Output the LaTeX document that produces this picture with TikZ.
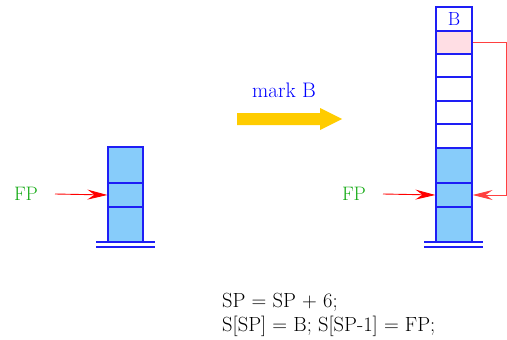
\documentclass[tikz,border=0pt]{standalone}
\usetikzlibrary{arrows.meta}
\definecolor{cellline}{RGB}{30,30,245}
\definecolor{cellblue}{RGB}{135,204,250}
\definecolor{cellpink}{RGB}{255,222,228}
\definecolor{fpgreen}{RGB}{20,170,20}
\definecolor{markgold}{RGB}{255,204,0}
\begin{document}
\begin{tikzpicture}[x=1pt,y=-1pt,
  cell/.style={draw=cellline, line width=1.2pt, rectangle, inner sep=0pt,
               minimum width=35pt},
  used/.style={cell, fill=cellblue},
  freecell/.style={cell, fill=white},
  pinkcell/.style={cell, fill=cellpink},
  ground/.style={draw=cellline, line width=1.1pt},
  ptr/.style={draw=red, line width=0.9pt,
              -{Stealth[length=20pt,width=10pt,inset=7pt]}},
  lbl/.style={inner sep=0pt},
  fp/.style={lbl, text=fpgreen, font=\fontsize{19.5}{22}\selectfont},
  code/.style={lbl, anchor=base west, font=\fontsize{20.5}{22}\selectfont}]
\useasboundingbox (0,0) rectangle (507,340);

% stack before the call
\node[used, minimum height=36pt] (L1) at (125.5,165) {};
\node[used, minimum height=24pt] (L2) at (125.5,195) {};
\node[used, minimum height=34pt] (L3) at (125.5,224.5) {};
\draw[ground] (96,242) -- (155,242);
\draw[ground] (96,247) -- (155,247);

\node[fp] (fpL) at (26,194) {FP};
\coordinate (fpLs) at (55,194);
\draw[ptr] (fpLs) -- (L2.west);

% transition arrow
\node[lbl, text=blue, font=\fontsize{21}{24}\selectfont] (mark) at (284,90) {mark B};
\fill[markgold] (237,113) -- (320,113) -- (320,108) -- (342,119)
  -- (320,130) -- (320,125) -- (237,125) -- cycle;

% stack after marking
\node[freecell, minimum width=36pt, minimum height=24pt, text=blue,
      font=\fontsize{19}{22}\selectfont] (R0) at (454,19) {B};
\node[pinkcell, minimum width=36pt, minimum height=23pt] (R1) at (454,42.5) {};
\node[freecell, minimum width=36pt, minimum height=23pt] (R2) at (454,65.5) {};
\node[freecell, minimum width=36pt, minimum height=24pt] (R3) at (454,89) {};
\node[freecell, minimum width=36pt, minimum height=23pt] (R4) at (454,112.5) {};
\node[freecell, minimum width=36pt, minimum height=24pt] (R5) at (454,136) {};
\node[used, minimum width=36pt, minimum height=35pt] (R6) at (454,165.5) {};
\node[used, minimum width=36pt, minimum height=24pt] (R7) at (454,195) {};
\node[used, minimum width=36pt, minimum height=35pt] (R8) at (454,224.5) {};
\draw[ground] (424,242) -- (483,242);
\draw[ground] (424,247) -- (483,247);

\node[fp] (fpR) at (354,194) {FP};
\coordinate (fpRs) at (383,194);
\draw[ptr] (fpRs) -- (R7.west);
\draw[ptr, draw=red!75] (R1.east) -- ++(34,0) |- (R7.east);

% instructions
\node[code] (code1) at (222,307) {SP = SP + 6;};
\node[code] (code2) at (222,331) {S[SP] = B; S[SP-1] = FP;};
\end{tikzpicture}
\end{document}
